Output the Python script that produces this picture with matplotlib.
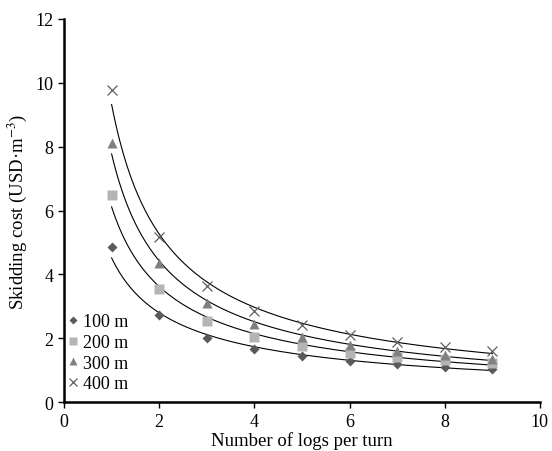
import matplotlib
matplotlib.use("Agg")
import matplotlib.pyplot as plt
import numpy as np

plt.rcParams['font.family'] = ['Liberation Serif', 'DejaVu Serif']
plt.rcParams['mathtext.fontset'] = 'stix'

logs = [1, 2, 3, 4, 5, 6, 7, 8, 9]
cost_100 = [4.85, 2.72, 2.0, 1.65, 1.45, 1.3, 1.2, 1.1, 1.05]
cost_200 = [6.5, 3.55, 2.55, 2.05, 1.75, 1.55, 1.42, 1.32, 1.22]
cost_300 = [8.1, 4.35, 3.1, 2.45, 2.05, 1.8, 1.6, 1.47, 1.35]
cost_400 = [9.78, 5.17, 3.65, 2.87, 2.42, 2.1, 1.87, 1.72, 1.6]
labels = ['100 m', '200 m', '300 m', '400 m']

series = [cost_100, cost_200, cost_300, cost_400]
markers = ['D', 's', '^', 'x']
colors = ['#5a5a5a', '#b4b4b4', '#808080', '#606060']
sizes = [5.5, 7, 7.5, 7]

fig, ax = plt.subplots(figsize=(5.52, 4.52), dpi=100)
fig.subplots_adjust(left=0.116, right=0.978, bottom=0.108, top=0.956)

x = np.array(logs, dtype=float)
xs = np.linspace(1, 9, 200)
for ys, m, c, s, lab in zip(series, markers, colors, sizes, labels):
    ys = np.array(ys)
    # power trend line y = a * x^b
    b, la = np.polyfit(np.log(x), np.log(ys), 1)
    ax.plot(xs, np.exp(la) * xs ** b, color='black', lw=0.8, zorder=2)
    if m == 'x':
        ax.plot(x, ys, m, color=c, ms=s, mew=0.9, label=lab, zorder=3)
    else:
        ax.plot(x, ys, m, color=c, ms=s, mec='none', label=lab, zorder=3)

ax.set_xlim(0, 10)
ax.set_ylim(0, 12)
ax.set_xticks(range(0, 11, 2))
ax.set_yticks(range(0, 13, 2))
ax.spines['top'].set_visible(False)
ax.spines['right'].set_visible(False)
ax.spines['left'].set_linewidth(1.8)
ax.spines['bottom'].set_linewidth(1.8)
ax.tick_params(direction='out', length=4, width=1, labelsize=13)

ax.set_xlabel('Number of logs per turn', fontsize=13.5, labelpad=1)
ax.set_ylabel('Skidding cost (USD·m$^{-3}$)', fontsize=13.5, labelpad=5)

ax.legend(loc='lower left', bbox_to_anchor=(-0.02, 0.0), frameon=False,
          fontsize=13, handletextpad=0.1, handlelength=0.9, markerscale=0.8,
          labelspacing=0.2, borderaxespad=0.15)

fig.savefig('out.png', dpi=100)
